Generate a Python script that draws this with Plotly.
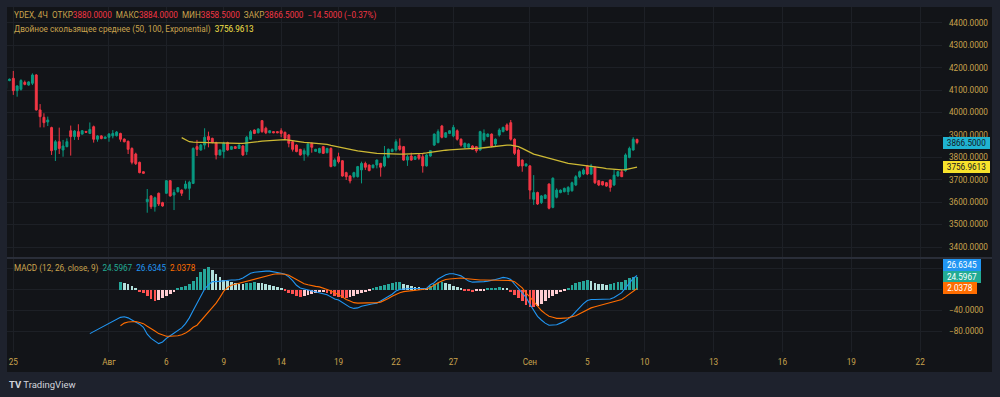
import plotly.graph_objects as go

# ---------------- data ----------------
FIRST_INDEX = -2  # index of first candle (0 = first bar of 25 Jul)

opens = [4108, 4143, 4153, 4098, 4104, 4135, 4123, 4131, 4168, 4012,
         3979, 3958, 3933, 3833, 3870, 3833, 3848, 3919, 3893, 3915,
         3904, 3916, 3907, 3937, 3881, 3896, 3884, 3890, 3896, 3897,
         3907, 3882, 3872, 3840, 3815, 3778, 3736, 3602, 3628, 3580,
         3640, 3598, 3640, 3696, 3632, 3647, 3654, 3662, 3662, 3684,
         3848, 3833, 3855, 3893, 3885, 3866, 3811, 3826, 3866, 3836,
         3848, 3840, 3851, 3826, 3881, 3922, 3910, 3964, 3930, 3910,
         3915, 3915, 3919, 3912, 3900, 3870, 3855, 3836, 3815, 3811,
         3863, 3827, 3821, 3848, 3821, 3840, 3762, 3803, 3785, 3732,
         3717, 3714, 3714, 3744, 3773, 3766, 3754, 3766, 3773, 3762,
         3800, 3826, 3833, 3851, 3848, 3788, 3806, 3791, 3811, 3803,
         3762, 3806, 3855, 3866, 3940, 3890, 3907, 3896, 3919, 3881,
         3845, 3845, 3851, 3848, 3833, 3878, 3893, 3904, 3860, 3900,
         3915, 3945, 3955, 3881, 3833, 3788, 3762, 3762, 3613, 3643,
         3598, 3617, 3681, 3577, 3622, 3643, 3647, 3647, 3651, 3677,
         3714, 3726, 3762, 3726, 3756, 3696, 3692, 3687, 3699, 3677,
         3717, 3736, 3741, 3800, 3833, 3880]
highs = [4149, 4152, 4186, 4122, 4149, 4143, 4140, 4175, 4172, 4038,
         3997, 3982, 3937, 3878, 3933, 3878, 3885, 3942, 3922, 3948,
         3922, 3918, 3956, 3942, 3900, 3899, 3894, 3909, 3922, 3918,
         3910, 3884, 3875, 3845, 3821, 3781, 3738, 3659, 3632, 3625,
         3643, 3602, 3699, 3699, 3657, 3666, 3657, 3696, 3696, 3845,
         3878, 3860, 3930, 3915, 3888, 3870, 3836, 3870, 3870, 3851,
         3851, 3858, 3855, 3896, 3922, 3925, 3930, 3967, 3937, 3922,
         3917, 3917, 3930, 3915, 3904, 3875, 3858, 3838, 3840, 3863,
         3866, 3838, 3843, 3851, 3843, 3845, 3796, 3821, 3788, 3736,
         3721, 3736, 3762, 3781, 3781, 3768, 3768, 3791, 3776, 3851,
         3840, 3840, 3881, 3885, 3851, 3811, 3821, 3806, 3818, 3815,
         3815, 3833, 3907, 3925, 3945, 3913, 3922, 3945, 3925, 3885,
         3866, 3863, 3854, 3851, 3919, 3925, 3907, 3907, 3885, 3930,
         3937, 3952, 3967, 3885, 3840, 3791, 3773, 3766, 3721, 3647,
         3632, 3636, 3684, 3711, 3662, 3657, 3665, 3672, 3692, 3721,
         3741, 3751, 3766, 3771, 3759, 3699, 3695, 3690, 3702, 3747,
         3739, 3744, 3818, 3848, 3890, 3884]
lows = [4104, 4140, 4079, 4071, 4098, 4122, 4120, 4123, 4009, 3934,
        3934, 3940, 3811, 3784, 3815, 3803, 3845, 3808, 3878, 3878,
        3902, 3910, 3904, 3866, 3870, 3881, 3882, 3870, 3885, 3893,
        3870, 3867, 3815, 3769, 3766, 3729, 3727, 3553, 3570, 3558,
        3583, 3580, 3637, 3625, 3565, 3643, 3628, 3657, 3610, 3681,
        3806, 3830, 3836, 3845, 3863, 3791, 3808, 3796, 3830, 3833,
        3838, 3838, 3806, 3811, 3878, 3904, 3907, 3910, 3904, 3908,
        3908, 3908, 3890, 3882, 3845, 3826, 3823, 3808, 3785, 3803,
        3821, 3825, 3818, 3815, 3818, 3756, 3759, 3773, 3714, 3699,
        3684, 3707, 3710, 3684, 3744, 3738, 3751, 3751, 3714, 3756,
        3796, 3823, 3826, 3830, 3785, 3762, 3785, 3789, 3788, 3732,
        3759, 3803, 3851, 3863, 3885, 3887, 3904, 3890, 3875, 3848,
        3840, 3843, 3833, 3821, 3830, 3870, 3890, 3845, 3848, 3893,
        3912, 3919, 3875, 3811, 3759, 3736, 3759, 3613, 3588, 3588,
        3592, 3614, 3568, 3573, 3617, 3640, 3644, 3632, 3647, 3672,
        3707, 3721, 3721, 3721, 3681, 3672, 3675, 3669, 3647, 3672,
        3714, 3712, 3736, 3796, 3830, 3858.5]
closes = [4146, 4149, 4098, 4119, 4143, 4126, 4137, 4168, 4012, 3982,
          3955, 3967, 3830, 3870, 3840, 3851, 3870, 3893, 3918, 3893,
          3919, 3912, 3925, 3881, 3896, 3884, 3891, 3904, 3907, 3913,
          3881, 3870, 3836, 3778, 3772, 3732, 3729, 3613, 3580, 3620,
          3592, 3583, 3696, 3628, 3643, 3665, 3640, 3681, 3689, 3840,
          3836, 3855, 3890, 3878, 3866, 3811, 3833, 3863, 3833, 3848,
          3840, 3855, 3811, 3890, 3915, 3907, 3927, 3915, 3910, 3919,
          3910, 3910, 3907, 3885, 3863, 3836, 3826, 3811, 3830, 3860,
          3845, 3836, 3840, 3818, 3840, 3759, 3788, 3781, 3717, 3714,
          3695, 3732, 3759, 3773, 3756, 3741, 3766, 3788, 3756, 3803,
          3836, 3836, 3870, 3836, 3788, 3803, 3788, 3803, 3796, 3762,
          3811, 3830, 3904, 3915, 3890, 3910, 3919, 3934, 3881, 3855,
          3863, 3860, 3836, 3830, 3915, 3907, 3904, 3851, 3881, 3922,
          3934, 3922, 3881, 3818, 3762, 3762, 3771, 3654, 3643, 3592,
          3628, 3632, 3573, 3707, 3654, 3654, 3662, 3666, 3687, 3714,
          3736, 3744, 3726, 3762, 3687, 3677, 3677, 3672, 3666, 3721,
          3736, 3714, 3811, 3840, 3881, 3866.5]

# Double EMA (50, 100) from candle index 44
DEMA_START = 44
dema = [3888, 3878, 3870, 3868, 3867, 3867, 3866, 3866, 3866, 3865,
        3865, 3864, 3863, 3863, 3863, 3863, 3863, 3864, 3866, 3868,
        3870, 3873, 3874, 3876, 3877, 3878, 3879, 3879, 3877, 3874,
        3871, 3869, 3867, 3866, 3865, 3864, 3863, 3862, 3858, 3854,
        3851, 3848, 3844, 3839, 3836, 3833, 3829, 3826, 3823, 3822,
        3820, 3818, 3817, 3816, 3815, 3815, 3815, 3815, 3815, 3815,
        3816, 3816, 3817, 3818, 3820, 3823, 3825, 3828, 3830, 3832,
        3834, 3836, 3837, 3837, 3838, 3838, 3839, 3840, 3841, 3843,
        3845, 3848, 3851, 3854, 3855, 3855, 3855, 3851, 3848, 3840,
        3831, 3822, 3815, 3810, 3805, 3800, 3795, 3790, 3785, 3781,
        3777, 3773, 3771, 3769, 3767, 3765, 3763, 3762, 3759, 3756,
        3753, 3750, 3748, 3746, 3744, 3744, 3745, 3748, 3752, 3756.9613]

# MACD (12, 26, close, 9)
MACD_START = 20
macd = [-84, -80, -77, -73, -69, -65, -60, -56,
        -53, -52, -54, -58, -62, -66, -72, -85, -93, -98,
        -103, -100, -93, -88, -83, -79, -73, -65, -54, -40,
        -26, -13, 1, 9, 15, 15, 16, 17, 18, 18,
        18, 19, 22, 27, 31, 33, 34, 35, 35, 35,
        34, 33, 31, 29, 24, 17, 8, 3, 1, -1,
        -3, -5, -6, -8, -10, -14, -18, -20, -25, -30,
        -34, -36, -35, -32, -30, -28, -27, -26, -22, -18,
        -14, -9, -3, 0, 1, 2, 2, 2, 2, 2,
        2, 9, 13, 20, 24, 28, 30, 30, 28, 26,
        21, 16, 14, 14, 14, 15, 16, 17, 19, 21,
        23, 22, 19, 10, 2, -5, -15, -28, -40, -51,
        -58, -64, -68, -68, -67, -64, -61, -56, -50, -42,
        -34, -27, -21, -19, -19, -19, -19, -19, -18, -15,
        -10, -6, 3, 12, 21, 26.6345]
SIGNAL_START = 28
signal = [-69, -64, -62, -61, -61, -63, -65, -70, -74, -79,
          -84, -87, -89, -89, -89, -88, -86, -83, -78, -72,
          -68, -60, -52, -44, -36, -26, -15, -3, 4, 8,
          10, 12, 14, 16, 18, 20, 22, 24, 26, 28,
          29, 30, 30, 29, 27, 23, 18, 14, 11, 9,
          7, 6, 5, 3, 0, -3, -6, -10, -14, -19,
          -22, -25, -26, -26, -26, -26, -26, -25, -24, -21,
          -17, -13, -9, -6, -4, -3, -2, -1, -1, 0,
          1, 4, 9, 13, 16, 19, 20, 21, 22, 22,
          21, 20, 19, 18, 18, 18, 18, 18, 18, 18,
          18, 18, 17, 15, 9, 3, -7, -14, -23, -32,
          -40, -46, -51, -53, -55, -55, -55, -54, -52, -50,
          -46, -42, -38, -35, -33, -31, -29, -27, -26, -24,
          -22, -19, -14, -9, -4, 2.0378]
HIST_START = 28
hist = [15, 13, 11, 6, 2, -5, -7, -12, -18, -21,
        -20, -17, -13, -8, -4, 2, 4, 7, 11, 16,
        24, 33, 40, 42, 37, 29, 23, 18, 16, 14,
        12, 11, 10, 12, 13, 14, 13, 12, 10, 8,
        6, 4, 2, -3, -6, -9, -12, -14, -12, -10,
        -8, -7, -5, -4, -6, -9, -12, -14, -16, -17,
        -15, -12, -9, -6, -4, -2, 2, 4, 6, 9,
        11, 13, 14, 14.5, 11, 8, 6, 5, 4, 3,
        2, 6, 10, 13, 14, 12, 10, 6, 4, 2,
        -1, -3, -4, -2, -2, -1, 1, 2, 3, 4,
        3, 1, -4, -10, -16, -22, -29, -33, -34, -31,
        -27, -22, -17, -13, -9, -5, -2, 3, 8, 12,
        15, 17, 18, 16, 13, 11, 10, 9, 10, 12,
        14, 15, 19, 22, 24, 24.5967]

# time axis: bar index of each date label
date_tick_index = [0, 25, 40, 55, 70, 85, 100, 115, 135, 150, 165, 183, 201, 219, 237]
date_tick_text = ["25", "Авг", "6", "9", "14", "19", "22", "27", "Сен", "5", "10", "13", "16", "19", "22"]
price_ticks = [3400, 3500, 3600, 3700, 3800, 3900, 4000, 4100, 4200, 4300, 4400]
macd_ticks = [-80, -40, 0, 40]
macd_tick_text = ["−80.0000", "−40.0000", "", ""]

# ---------------- styling / geometry ----------------
W, H = 1000, 397
ML, MR, MT, MB = 7, 58, 7, 45
PW, PH = W - ML - MR, H - MT - MB
FRAME = "#1e222d"
PANE = "#121418"
GRID = "#1d2026"
GOLD = "#c9a34d"
UP = "#089981"
DOWN = "#f23645"
FONT = "Roboto"
FS = 8.2


def ppx(px):
    return (px - ML) / PW


def ppy(py):
    return (H - MB - py) / PH


main_dom = [ppy(257), 1.0]
macd_dom = [0.0, ppy(259)]
main_range = [3355.4, 4471.4]
macd_range = [-119.0, 58.1]
x_range = [-1.65, 242.7]

n = len(opens)
xs = [FIRST_INDEX + i for i in range(n)]

fig = go.Figure()

fig.add_trace(go.Candlestick(
    x=xs, open=opens, high=highs, low=lows, close=closes,
    increasing=dict(line=dict(color=UP, width=1), fillcolor=UP),
    decreasing=dict(line=dict(color=DOWN, width=1), fillcolor=DOWN),
    whiskerwidth=0, xaxis="x", yaxis="y", showlegend=False, hoverinfo="skip"))

fig.add_trace(go.Scatter(
    x=[DEMA_START + i for i in range(len(dema))], y=dema, mode="lines",
    line=dict(color="#cdb934", width=1.3), xaxis="x", yaxis="y",
    showlegend=False, hoverinfo="skip"))

hcolors = []
for i, v in enumerate(hist):
    prev = hist[i - 1] if i > 0 else v
    if v >= 0:
        hcolors.append("#26a69a" if v >= prev else "#b2dfdb")
    else:
        hcolors.append("#ff5252" if v < prev else "#ffcdd2")

fig.add_trace(go.Bar(
    x=[HIST_START + i for i in range(len(hist))], y=hist, marker=dict(color=hcolors, line=dict(width=0)),
    width=0.72, xaxis="x2", yaxis="y2", showlegend=False, hoverinfo="skip"))
fig.add_trace(go.Scatter(
    x=[MACD_START + i for i in range(len(macd))], y=macd, mode="lines",
    line=dict(color="#2196f3", width=1.1), xaxis="x2", yaxis="y2",
    showlegend=False, hoverinfo="skip"))
fig.add_trace(go.Scatter(
    x=[SIGNAL_START + i for i in range(len(signal))], y=signal, mode="lines",
    line=dict(color="#ff6d00", width=1.1), xaxis="x2", yaxis="y2",
    showlegend=False, hoverinfo="skip"))

axis_font = dict(family=FONT, size=FS, color=GOLD)
common_x = dict(range=x_range, tickmode="array", tickvals=date_tick_index, ticktext=date_tick_text,
                showgrid=True, gridcolor=GRID, gridwidth=1, zeroline=False, showline=False,
                ticks="", fixedrange=True, rangeslider=dict(visible=False))

fig.update_layout(
    width=W, height=H,
    margin=dict(l=ML, r=MR, t=MT, b=MB),
    paper_bgcolor=FRAME, plot_bgcolor=PANE,
    showlegend=False, bargap=0, boxgap=0.5, boxgroupgap=0,
    xaxis=dict(domain=[0, 1], anchor="y", showticklabels=False, **common_x),
    xaxis2=dict(domain=[0, 1], anchor="y2", matches="x", showticklabels=True,
                tickfont=axis_font, ticklabelstandoff=4, **common_x),
    yaxis=dict(domain=main_dom, anchor="x", side="right", range=main_range,
               tickmode="array", tickvals=price_ticks, ticktext=[f"{v:.4f}" for v in price_ticks],
               tickfont=axis_font, showgrid=True, gridcolor=GRID, zeroline=False,
               ticks="", ticklabelstandoff=6, fixedrange=True),
    yaxis2=dict(domain=macd_dom, anchor="x2", side="right", range=macd_range,
                tickmode="array", tickvals=macd_ticks, ticktext=macd_tick_text,
                tickfont=axis_font, showgrid=True, gridcolor=GRID, zeroline=False,
                ticks="", ticklabelstandoff=6, fixedrange=True),
)

shapes = [
    # dark pane background incl. price & time scales
    dict(type="rect", xref="paper", yref="paper", x0=ppx(7), x1=ppx(992), y0=ppy(372), y1=ppy(7),
         fillcolor=PANE, line=dict(width=0), layer="below"),
    # pane separator
    dict(type="line", xref="paper", yref="paper", x0=ppx(7), x1=ppx(992), y0=ppy(258), y1=ppy(258),
         line=dict(color="#2a2e39", width=2)),
]
fig.update_layout(shapes=shapes)

annotations = []

last_o, last_h, last_l, last_c = opens[-1], highs[-1], lows[-1], closes[-1]
chg = last_c - closes[-2]
pct = chg / closes[-2] * 100
red = DOWN if chg < 0 else UP


def fmt_signed(v, nd):
    s = f"{abs(v):.{nd}f}"
    return ("−" if v < 0 else "+") + s


head = (f"YDEX, 4Ч  ОТКР<span style='color:{red}'>{last_o:.4f}</span>  "
        f"МАКС<span style='color:{red}'>{last_h:.4f}</span>  "
        f"МИН<span style='color:{red}'>{last_l:.4f}</span>  "
        f"ЗАКР<span style='color:{red}'>{last_c:.4f}</span>  "
        f"<span style='color:{red}'>{fmt_signed(chg, 4)} ({fmt_signed(pct, 2)}%)</span>")
annotations.append(dict(text=head, xref="paper", yref="paper", x=ppx(12), y=ppy(16),
                        xanchor="left", yanchor="middle", showarrow=False,
                        font=dict(family=FONT, size=FS, color=GOLD)))
annotations.append(dict(text=f"Двойное скользящее среднее (50, 100, Exponential)  "
                             f"<span style='color:#f5e14a'>{dema[-1]:.4f}</span>",
                        xref="paper", yref="paper", x=ppx(12), y=ppy(29.5),
                        xanchor="left", yanchor="middle", showarrow=False,
                        font=dict(family=FONT, size=FS, color=GOLD)))
annotations.append(dict(text=f"MACD (12, 26, close, 9)  "
                             f"<span style='color:#22ab94'>{hist[-1]:.4f}</span>  "
                             f"<span style='color:#2196f3'>{macd[-1]:.4f}</span>  "
                             f"<span style='color:#ff6d00'>{signal[-1]:.4f}</span>",
                        xref="paper", yref="paper", x=ppx(12), y=ppy(268),
                        xanchor="left", yanchor="middle", showarrow=False,
                        font=dict(family=FONT, size=FS, color=GOLD)))

# price-scale value labels
macd_upp = (macd_range[1] - macd_range[0]) / (352 - 259)
lab_x = ppx(943)


def scale_label(txt, y, yref, bg, fg, w):
    annotations.append(dict(text=txt, xref="paper", yref=yref, x=lab_x, y=y,
                            xanchor="left", yanchor="middle", showarrow=False,
                            bgcolor=bg, width=w, height=12, borderpad=0, borderwidth=0,
                            align="center", valign="middle",
                            font=dict(family=FONT, size=FS, color=fg)))


scale_label(f"{last_c:.4f}", last_c, "y", "#1fb3d1", "#131722", 47)
scale_label(f"{dema[-1]:.4f}", dema[-1], "y", "#f7e22c", "#131722", 47)
scale_label(f"{hist[-1]:.4f}", hist[-1], "y2", "#22ab94", "#ffffff", 38)
scale_label(f"{macd[-1]:.4f}", hist[-1] + 11.5 * macd_upp, "y2", "#2196f3", "#ffffff", 38)
scale_label(f"{signal[-1]:.4f}", signal[-1], "y2", "#ff6d00", "#ffffff", 34)

# TradingView footer
annotations.append(dict(text="<b>TV</b> TradingView", xref="paper", yref="paper",
                        x=ppx(7), y=ppy(384.5), xanchor="left", yanchor="middle", showarrow=False,
                        font=dict(family=FONT, size=9.5, color="#d1d4dc")))

fig.update_layout(annotations=annotations)

fig.write_html("out.html", config={"displayModeBar": False},
               post_script="document.body.style.margin='0';")
